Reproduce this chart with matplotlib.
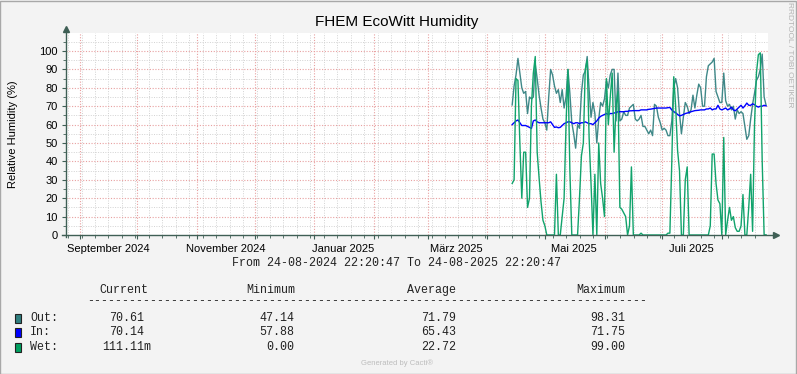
import matplotlib
matplotlib.use('Agg')
import matplotlib.pyplot as plt
import matplotlib.dates as mdates
from matplotlib.patches import Rectangle
import datetime as dt

# ---------------- data (daily samples from 13 Apr 2025) ----------------
start_date = dt.datetime(2025, 4, 13, 22, 0)
step_days = 1

out_vals = [70.7, 81, 87, 96, 88, 80, 77, 78, 66, 75,
            74, 75, 93, 85, 76, 69, 63, 61, 57, 75,
            90, 87, 81, 77, 79, 72, 79, 69, 75, 90,
            77, 61, 55, 47.2, 60, 58, 77, 87, 89, 97,
            79, 64, 72, 66, 50, 63, 72, 70, 74, 84,
            80, 87, 90, 90, 62, 88, 62, 63, 67, 65,
            65, 69, 70, 71, 63, 62, 63, 65, 59, 59,
            57, 55, 57, 54, 71, 70, 64, 61, 57, 58,
            57, 54, 54, 62, 80, 85, 80, 66, 55, 64,
            72, 70, 66, 68, 76, 69, 76, 82, 80, 70,
            70, 86, 92, 93, 94, 96, 78, 75, 72, 72,
            88, 73, 70, 71, 68, 70, 63, 68, 66, 67,
            66, 59, 52, 54, 63, 71, 77, 84, 86, 90,
            98.3, 75, 70.6]
in_vals = [60, 61, 62, 62.5, 61, 59.5, 59.5, 59.5, 59, 58.5,
           57.9, 62, 62.5, 61.5, 61, 61, 61, 61, 61, 61,
           61.5, 60, 58.5, 58.7, 58.3, 58.5, 59.5, 60.5, 61, 61.5,
           61.5, 61, 60.5, 61, 61, 60.5, 61, 61, 61.5, 61,
           60.5, 60.5, 60, 61, 62, 63.5, 64.5, 65, 65.5, 66,
           65.5, 66, 66, 66.3, 66.5, 67, 67, 67, 67, 67.2,
           67.2, 67.5, 67.5, 67.6, 67.6, 67.6, 67.6, 68, 68, 68,
           68, 68.3, 68.4, 68.6, 68.8, 69, 69, 69, 69, 69,
           69, 69.2, 69.3, 68, 67, 66.5, 65.5, 64.8, 65, 65.5,
           66, 66.3, 66.6, 67, 67.3, 67.6, 67.7, 67.8, 68, 68,
           68, 68.5, 68.5, 69, 68, 68.5, 68.5, 70.5, 68.5, 68,
           68.5, 69, 68, 68.5, 69.5, 68, 67.5, 68.5, 69.5, 70.5,
           69, 70.2, 71.7, 70.5, 70.5, 71.3, 70.8, 70, 69.5, 70,
           70, 70.5, 70.14]
wet_vals = [28, 30, 85, 84, 50, 20, 45, 45, 15, 20,
            70, 88, 97, 45, 31, 18, 8, 5, 0, 0,
            0, 0, 0, 33, 0, 0, 10, 20, 60, 90,
            35, 0, 0, 0, 0, 20, 43, 50, 90, 95,
            53, 28, 0, 33, 0, 50, 28, 20, 10, 85,
            60, 75, 88, 45, 70, 78, 15, 14, 12, 10,
            0, 5, 37, 0, 0, 0, 0, 1, 0, 0,
            0, 0, 0, 0, 0, 0, 0, 0, 0, 0,
            0, 1, 1, 40, 86, 70, 46, 35, 0, 0,
            30, 37, 0, 0, 0, 0, 0, 0, 0, 0,
            0, 0, 0, 5, 44, 44, 28, 19, 17, 0,
            53, 0, 8, 15, 8, 10, 4, 2, 2, 5,
            22, 0, 0, 15, 33, 2, 60, 88, 98, 99,
            40, 0, 0.11]

dates = [start_date + dt.timedelta(days=step_days * i) for i in range(len(out_vals))]

x_start = dt.datetime(2024, 8, 24, 22, 20, 47)
x_end = dt.datetime(2025, 8, 24, 22, 20, 47)

month_labels = ["September 2024", "November 2024", "Januar 2025",
                "März 2025", "Mai 2025", "Juli 2025"]
month_label_dates = [dt.datetime(2024, 9, 16), dt.datetime(2024, 11, 16),
                     dt.datetime(2025, 1, 16), dt.datetime(2025, 3, 16),
                     dt.datetime(2025, 5, 16), dt.datetime(2025, 7, 16)]

legend_names = ["Out:", "In:", "Wet:"]
legend_colors = ["#2F7F7F", "#0000FF", "#00A060"]
cur_vals = ["70.61", "70.14", "111.11m"]
min_vals = ["47.14", "57.88", "0.00"]
avg_vals = ["71.79", "65.43", "22.72"]
max_vals = ["98.31", "71.75", "99.00"]

# ---------------- figure ----------------
W, H = 797, 374
fig = plt.figure(figsize=(W / 100, H / 100), dpi=100, facecolor="#F3F3F3")

L, R, T, B = 66, 768, 33, 235
ax = fig.add_axes([L / W, 1 - B / H, (R - L) / W, (B - T) / H])
ax.set_facecolor("white")
ymax = (B - T) / 1.84
ax.set_ylim(0, ymax)
ax.set_xlim(mdates.date2num(x_start), mdates.date2num(x_end))

grid_red = "#E8A0A0"
grid_gray = "#D2D2D2"
dot = (0, (1, 1.5))

# vertical grid: weekly minor (Mondays), monthly major
wk = []
d = dt.datetime(2024, 8, 26)
while d < x_end:
    wk.append(mdates.date2num(d))
    ax.axvline(mdates.date2num(d), color=grid_gray, lw=0.7, ls=dot, zorder=1)
    d += dt.timedelta(days=7)
month_starts = []
y_, m_ = 2024, 9
while True:
    ms = dt.datetime(y_, m_, 1)
    if ms > x_end:
        break
    month_starts.append(ms)
    ax.axvline(mdates.date2num(ms), color=grid_red, lw=0.8, ls=dot, zorder=1.5)
    m_ += 1
    if m_ > 12:
        m_ = 1
        y_ += 1

for v in range(5, 110, 10):
    ax.axhline(v, color=grid_gray, lw=0.7, ls=dot, zorder=1)
for v in range(10, 110, 10):
    ax.axhline(v, color=grid_red, lw=0.8, ls=dot, zorder=1.5)

# data
xd = mdates.date2num(dates)
ax.plot(xd, out_vals, color="#3F8888", lw=1.0, zorder=3)
ax.plot(xd, in_vals, color="#0000FF", lw=1.0, zorder=4)
ax.plot(xd, wet_vals, color="#11A36C", lw=1.0, zorder=5)

# axes / ticks
for s in ax.spines.values():
    s.set_visible(False)
axis_color = "#3F5F55"
ax.plot([0, 0], [-0.01, 1.01], transform=ax.transAxes, color=axis_color, lw=1.0,
        clip_on=False, zorder=6)
ax.plot([-0.006, 1.01], [0, 0], transform=ax.transAxes, color=axis_color, lw=1.0,
        clip_on=False, zorder=6)
ax.plot([0], [1.018], marker="^", ms=4.5, color=axis_color, transform=ax.transAxes,
        clip_on=False, zorder=7)
ax.plot([1.011], [0], marker=">", ms=4.5, color=axis_color, transform=ax.transAxes,
        clip_on=False, zorder=7)

ax.set_yticks(range(0, 101, 10))
ax.set_yticklabels([str(v) for v in range(0, 101, 10)], fontsize=8,
                   family="Liberation Sans")
ax.set_yticks(range(5, 110, 10), minor=True)
ax.tick_params(axis="y", which="major", length=3, width=0.8, color=axis_color, pad=3)
ax.tick_params(axis="y", which="minor", length=2, width=0.6, color=axis_color)

ax.set_xticks(mdates.date2num(month_starts))
ax.set_xticklabels([""] * len(month_starts))
ax.set_xticks(wk, minor=True)
ax.tick_params(axis="x", which="major", length=3, width=0.8, color=axis_color)
ax.tick_params(axis="x", which="minor", length=2, width=0.6, color=axis_color)

for lab, ld in zip(month_labels, month_label_dates):
    ax.text(mdates.date2num(ld), -0.045, lab, transform=ax.get_xaxis_transform(),
            ha="center", va="top", fontsize=8, family="Liberation Sans")

ax.set_ylabel("Relative Humidity (%)", fontsize=8, family="Liberation Sans")
ax.yaxis.set_label_coords(-0.069, 0.5)

# ---------------- texts ----------------
def fx(px):
    return px / W


def fy(py):
    return 1 - py / H


fig.text(fx(397), fy(22), "FHEM EcoWitt Humidity", ha="center", va="center",
         fontsize=11, family="Liberation Sans")
fig.text(fx(789), fy(55), "RRDTOOL / TOBI OETIKER", ha="center", va="center",
         rotation=270, fontsize=6, color="#B4B4B4", family="Liberation Sans")

mono = dict(family="Liberation Mono", fontsize=8.4, color="#222222")
fig.text(fx(397), fy(263), "From 24-08-2024 22:20:47 To 24-08-2025 22:20:47",
         ha="center", va="center", **mono)

fig.text(fx(148), fy(290), "Current", ha="right", va="center", **mono)
fig.text(fx(295), fy(290), "Minimum", ha="right", va="center", **mono)
fig.text(fx(456), fy(290), "Average", ha="right", va="center", **mono)
fig.text(fx(625), fy(290), "Maximum", ha="right", va="center", **mono)
fig.text(fx(87), fy(301), "-" * 80, ha="left", va="center", **mono)

row_y = [318, 332, 347]
for i in range(3):
    y = row_y[i]
    fig.add_artist(Rectangle((fx(15), fy(y + 4.5)), 6 / W, 9 / H,
                             transform=fig.transFigure, facecolor=legend_colors[i],
                             edgecolor="#222222", lw=0.8))
    fig.text(fx(30), fy(y), legend_names[i], ha="left", va="center", **mono)
    fig.text(fx(102) if cur_vals[i].endswith("m") else fx(109), fy(y), cur_vals[i],
             ha="left", va="center", **mono)
    fig.text(fx(294), fy(y), min_vals[i], ha="right", va="center", **mono)
    fig.text(fx(456), fy(y), avg_vals[i], ha="right", va="center", **mono)
    fig.text(fx(625), fy(y), max_vals[i], ha="right", va="center", **mono)

fig.text(fx(397), fy(363), "Generated by Cacti®", ha="center", va="center",
         fontsize=5.5, color="#BDBDBD", family="Liberation Sans")

fig.add_artist(Rectangle((0, 0), 1 - 1 / W, 1 - 1 / H, transform=fig.transFigure,
                         facecolor="none", edgecolor="#A8A8A8", lw=1.0))

fig.savefig("out.png", dpi=100, facecolor=fig.get_facecolor())
